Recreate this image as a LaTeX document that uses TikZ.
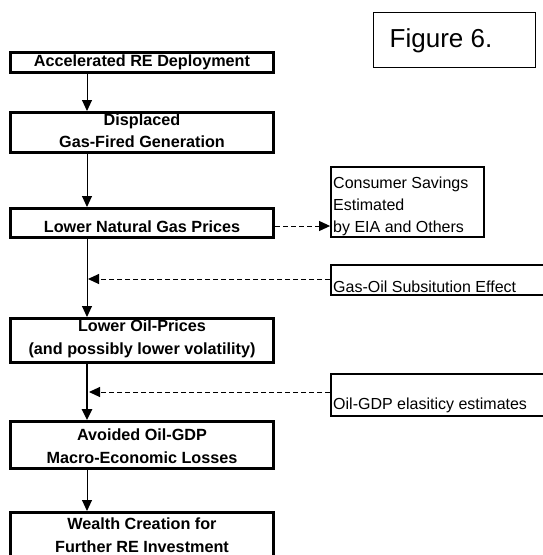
\documentclass[tikz,border=0pt]{standalone}
\usepackage{fontspec}
\setmainfont{Liberation Sans}
\usetikzlibrary{arrows.meta}
\begin{document}
\begin{tikzpicture}[x=1pt,y=-1pt,
  mainbox/.style={draw,line width=3pt,minimum width=263pt,inner sep=0pt},
  sidebox/.style={draw,line width=1.8pt,inner sep=0pt},
  btxt/.style={font=\fontsize{16.2}{22.5}\selectfont\bfseries,align=center,inner sep=0pt},
  stxt/.style={font=\fontsize{16}{22}\selectfont,align=left,inner sep=0pt,anchor=west},
  flow/.style={line width=1pt,-{Triangle[width=10pt,length=11pt]}},
  thickflow/.style={line width=2.6pt,-{Triangle[width=10pt,length=11pt]}},
  dflow/.style={line width=1pt,dash pattern=on 5pt off 3pt,-{Triangle[width=10pt,length=11pt]}}
]
\useasboundingbox (0,0) rectangle (543,555);
\clip (0,0) rectangle (543,555);

% main boxes
\node[mainbox,minimum height=20pt] (b1) at (142,62.5) {};
\node[mainbox,minimum height=40pt] (b2) at (142,132.5) {};
\node[mainbox,minimum height=29pt] (b3) at (142,223) {};
\node[mainbox,minimum height=44pt] (b4) at (142,340.5) {};
\node[mainbox,minimum height=47pt] (b5) at (142,445) {};
\node[mainbox,minimum height=66pt] (b6) at (142,545.5) {};

\node[btxt] (t1) at (142,62) {Accelerated RE Deployment};
\node[btxt] (t2) at (142,130.5) {Displaced\\Gas-Fired Generation};
\node[btxt] (t3) at (142,227) {Lower Natural Gas Prices};
\node[btxt] (t4) at (142,339) {Lower Oil-Prices\\(and possibly lower volatility)};
\node[btxt] (t5) at (142,446) {Avoided Oil-GDP\\Macro-Economic Losses};
\node[btxt] (t6) at (142,535) {Wealth Creation for\\Further RE Investment};

% side boxes
\node[sidebox,minimum width=153pt,minimum height=70pt] (cons) at (407.5,202) {};
\node[stxt] (tcons) at (333,206) {Consumer Savings\\Estimated\\by EIA and Others};
\node[sidebox,minimum width=270pt,minimum height=30pt] (gasoil) at (466,280) {};
\node[stxt] (tgasoil) at (333,287) {Gas-Oil Subsitution Effect};
\node[sidebox,minimum width=270pt,minimum height=42pt] (oilgdp) at (466,395) {};
\node[stxt] (toilgdp) at (333,405) {Oil-GDP elasiticy estimates};

% figure label
\node[draw,line width=1.5pt,minimum width=162pt,minimum height=55pt,inner sep=0pt] (fig) at (454.5,40) {};
\node[font=\fontsize{26}{30}\selectfont,inner sep=0pt] (tfig) at (441,41) {Figure 6.};

% main flow
\coordinate (axis) at (87,0);
\draw[flow] (b1.south -| axis) -- (b2.north -| axis);
\draw[flow] (b2.south -| axis) -- (b3.north -| axis);
\draw[flow] (b3.south -| axis) -- (b4.north -| axis);
\draw[thickflow] (b4.south -| axis) -- (b5.north -| axis);
\draw[flow] (b5.south -| axis) -- (b6.north -| axis);

% dashed connectors
\draw[dflow] ([yshift=-3pt]b3.east) -- ([yshift=-3pt]b3.east -| cons.west);
\coordinate (j1) at (88,279);
\coordinate (j2) at (89,392);
\draw[dflow] (gasoil.west |- j1) -- (j1);
\draw[dflow] (oilgdp.west |- j2) -- (j2);
\end{tikzpicture}
\end{document}
